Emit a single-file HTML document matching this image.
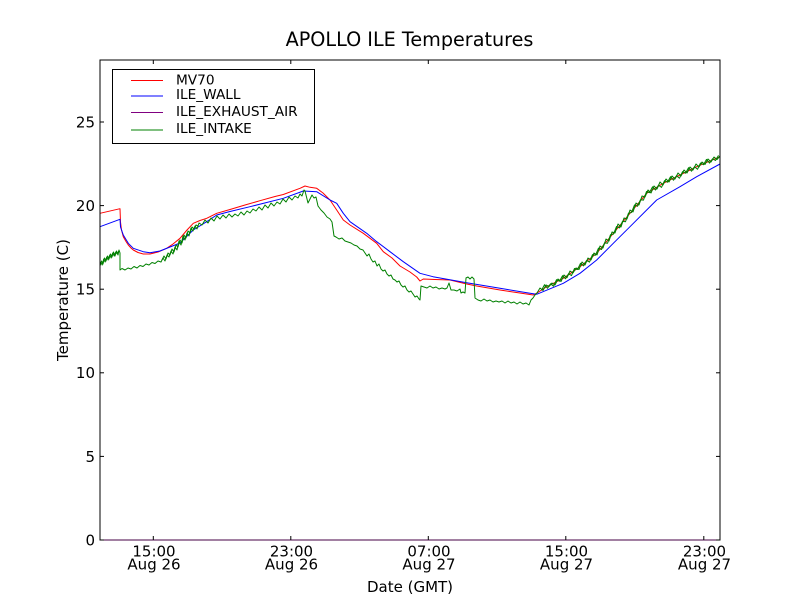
<!DOCTYPE html>
<html>
<head>
<meta charset="utf-8">
<style>
  html, body { margin: 0; padding: 0; background: #ffffff; }
  body { width: 800px; height: 600px; overflow: hidden; }
  svg { display: block; }
  text { font-family: "DejaVu Sans", "Liberation Sans", sans-serif; fill: #000; }
</style>
</head>
<body>
<svg width="800" height="600" viewBox="0 0 800 600" xmlns="http://www.w3.org/2000/svg">
  <rect x="0" y="0" width="800" height="600" fill="#ffffff"/>

  <!-- Title -->
  <text x="409.5" y="46" font-size="19.2" text-anchor="middle">APOLLO ILE Temperatures</text>

  <!-- Plot area -->
  <rect x="100" y="60" width="620" height="480" fill="#ffffff"/>

  <g fill="none" stroke-width="1" stroke-linejoin="round">
    <!-- ILE_EXHAUST_AIR (at 0) -->
    <line x1="100" y1="540" x2="720" y2="540" stroke="#800080"/>

    <!-- MV70 red -->
    <polyline stroke="#ff0000" points="100,213.3 120,208.7 120.5,222 121.5,230 123.3,236.7 126,241.5 128.3,245 131,248 133.3,250 138,252.5 143.3,254 150,254 158,252 166.7,248.3 173,244 180,238.3 187,230 193.3,223.3 200,220.5 206.7,218.3 216.7,213.3 230,209.5 245,205 260,200.7 275,196.5 283.3,194.5 300,188.3 305,186 310,187.3 316.7,188.3 323,193 330,200 336.7,210 343.3,220 350,225 363.3,233.3 376.7,243.3 383.3,251.7 392,258 400,266 410,272 416.7,277 420,281 423.3,279 435,279.5 450,280 466.7,284 476.7,286 500,290 533.3,295 537,293 546.7,286.7 563.3,278.3 580,266.7 596.7,253.3 613.3,233.3 630,213.3 646.7,193.3 663.3,183.3 680,175 696.7,166.7 720,156.7"/>

    <!-- ILE_WALL blue -->
    <polyline stroke="#0000ff" points="100,226.7 120,219.3 120.5,227 123.3,235 128.3,243.3 133.3,248.3 143.3,251.7 150,252.7 160,251 170,247 180,243 193.3,230 206.7,221.7 216.7,215 230,211.5 250,206.7 283.3,198.3 303.3,191 316.7,191.7 330,200 336.7,203.3 343.3,213.3 350,221.7 366.7,233.3 376.7,241.7 390,251.7 403.3,261.7 420,273.3 433,276.7 466.7,282.7 500,288.3 530,293.3 536.7,294.3 563.3,283.3 580,273.3 596.7,260 613.3,243.3 630,226.7 656.7,200 680,186.7 696.7,176.7 720,164"/>

    <!-- ILE_INTAKE green -->
    <polyline stroke="#008000" points="100,266 101.5,261 103,264 104.5,258 106,261 107.5,256 109,259 110.5,254 112,257 113.5,252 115,256 116.5,251 118,255 119,250 120,253 120,270 122,268.5 125,270 128,268 131,269 134,266.5 137,268 140,265.5 143,266.5 146,264 149,265 152,262.5 155,263.5 158,261 161,262 163,258 165,261 167,255 169,257 171,251 173,254 175,247 177,250 179,241 181,245 183,236 185,240 187,233 189,236 191,228 193,231 195,226 197,229 199,223 202,225 205,220 208,223 211,218 214,221 217,216 220,219 223,215 226,218 229,214 232,217 235,214 238,216 241,212 244,215 247,211 250,213 253,209 256,211 259,207 262,210 265,205 268,208 271,203 274,206 277,202 280,204 283,199 286,202 289,197 292,200 295,196 298,198 300,194 302,196 304,190 305,191 308,203 310,199 312,195 314,198 316,197 318,206 321,210 324,213 327,217 330,219 332,222 334,236 336,237 339,239 342,238 345,241 348,242 351,243 354,245 357,246 360,249 363,250 365,253 367,256 369,254 371,259 373,262 375,261 377,266 379,264 381,269 383,271 385,270 387,274 389,276 391,275 393,279 395,280 397,282 399,281 401,285 403,287 405,286 407,290 409,292 411,291 413,294 415,297 417,296 419,299 420,300 421,286 424,287 427,288 430,286 433,288 436,287 439,289 442,288 445,289 447,288 449,283 451,290 454,290 457,291 460,289 461,293 463,292 465,293 466,278 468,277 470,279 472,277 474,279 475,298 478,300 481,301 484,299 487,301 490,300 493,302 496,301 499,302 502,301 505,303 508,301 511,303 514,302 517,304 520,302 523,304 526,303 529,305 531,300 533,298 535,295 537,293 540,288 543,290.5 546,285 549,286.5 552,283 555,285 558,279 561,281.5 564,275 567,277.7 570,271 573,273 576,268 579,269.5 582,262 585,265 588,258 591,260 594,253 597,255 600,246 603,248 606,239 609,241 612,232 615,233 618,224 621,227 624,218 627,219 630,210 633,212 636,203 639,205 642,196 645,197 648,190 651,193 654,186 657,189 660,182 663,185 666,179 669,182 672,176 675,179 678,173 681,176 684,170 687,173 690,167 693,170 696,164 699,167 702,162 705,164.5 708,159 711,162 714,157 717,159.5 720,156"/>

    <!-- extra noise overlays for ILE_INTAKE -->
    <polyline stroke="#008000" points="100.7,262 102.2,265 103.7,259 105.2,262 106.7,257 108.2,260 109.7,255 111.2,258 112.7,253 114.2,256 115.7,252 117.2,254 118.7,251"/>
    <polyline stroke="#008000" points="162,260 164,256 166,259 168,253 170,255 172,249 174,252 176,245 178,247 180,240 182,243 184,235 186,238 188,231 190,233 192,227 194,229 196,225 198,226"/>
    <polyline stroke="#008000" points="541.5,290.2 544.5,284.7 547.5,288.3 550.5,283.8 553.5,286.2 556.5,279.7 559.5,281.2 562.5,275.7 565.5,278.8 568.5,273.7 571.5,275.6 574.5,268.5 577.5,269.5 580.5,263.3 583.5,265.9 586.5,260.5 589.5,262.1 592.5,254.6 595.5,255.2 598.5,248.1 601.5,249.5 604.5,242.9 607.5,243.3 610.5,234.7 613.5,234.1 616.5,226.5 619.5,227.9 622.5,221.3 625.5,221.7 628.5,213.1 631.5,212.5 634.5,204.9 637.5,206.3 640.5,199.7 643.5,200.1 646.5,191.5 649.5,192.6 652.5,186.8 655.5,190 658.5,185.2 661.5,187.4 664.5,180.7 667.5,182.2 670.5,176.7 673.5,180.2 676.5,175.7 679.5,178.2 682.5,171.7 685.5,173.2 688.5,167.7 691.5,171.2 694.5,166.7 697.5,169.3 700.5,163 703.5,164.7 706.5,159.4 709.5,163.1 712.5,158.8 715.5,160.5 718.5,155.4"/>
  </g>

  <!-- Axes frame -->
  <rect x="100" y="60" width="620" height="480" fill="none" stroke="#000" stroke-width="1"/>
  <line x1="100" y1="540" x2="720" y2="540" stroke="#800080" stroke-width="1" stroke-opacity="0.55"/>

  <!-- Ticks -->
  <g stroke="#000" stroke-width="1">
    <line x1="100" y1="540" x2="104" y2="540"/><line x1="720" y1="540" x2="716" y2="540"/>
    <line x1="100" y1="456.4" x2="104" y2="456.4"/><line x1="720" y1="456.4" x2="716" y2="456.4"/>
    <line x1="100" y1="372.8" x2="104" y2="372.8"/><line x1="720" y1="372.8" x2="716" y2="372.8"/>
    <line x1="100" y1="289.2" x2="104" y2="289.2"/><line x1="720" y1="289.2" x2="716" y2="289.2"/>
    <line x1="100" y1="205.6" x2="104" y2="205.6"/><line x1="720" y1="205.6" x2="716" y2="205.6"/>
    <line x1="100" y1="122" x2="104" y2="122"/><line x1="720" y1="122" x2="716" y2="122"/>
    <line x1="153.3" y1="540" x2="153.3" y2="536"/><line x1="153.3" y1="60" x2="153.3" y2="64"/>
    <line x1="290.8" y1="540" x2="290.8" y2="536"/><line x1="290.8" y1="60" x2="290.8" y2="64"/>
    <line x1="428.3" y1="540" x2="428.3" y2="536"/><line x1="428.3" y1="60" x2="428.3" y2="64"/>
    <line x1="565.8" y1="540" x2="565.8" y2="536"/><line x1="565.8" y1="60" x2="565.8" y2="64"/>
    <line x1="703.8" y1="540" x2="703.8" y2="536"/><line x1="703.8" y1="60" x2="703.8" y2="64"/>
  </g>

  <!-- Y tick labels -->
  <g font-size="15" text-anchor="end">
    <text x="95" y="545.4">0</text>
    <text x="95" y="461.8">5</text>
    <text x="95" y="378.2">10</text>
    <text x="95" y="294.6">15</text>
    <text x="95" y="211">20</text>
    <text x="95" y="127.4">25</text>
  </g>

  <!-- X tick labels -->
  <g font-size="15" text-anchor="middle">
    <text x="154" y="556.5">15:00</text><text x="154" y="569.5">Aug 26</text>
    <text x="291.5" y="556.5">23:00</text><text x="291.5" y="569.5">Aug 26</text>
    <text x="429" y="556.5">07:00</text><text x="429" y="569.5">Aug 27</text>
    <text x="566.5" y="556.5">15:00</text><text x="566.5" y="569.5">Aug 27</text>
    <text x="704.5" y="556.5">23:00</text><text x="704.5" y="569.5">Aug 27</text>
  </g>

  <!-- Axis labels -->
  <text x="410" y="592" font-size="15" text-anchor="middle">Date (GMT)</text>
  <text x="0" y="0" font-size="15" text-anchor="middle" transform="translate(68,300) rotate(-90)">Temperature (C)</text>

  <!-- Legend -->
  <rect x="112.5" y="69.5" width="202" height="74" fill="#ffffff" stroke="#000" stroke-width="1"/>
  <g stroke-width="1">
    <line x1="131" y1="80.5" x2="163" y2="80.5" stroke="#ff0000"/>
    <line x1="131" y1="96" x2="163" y2="96" stroke="#0000ff"/>
    <line x1="131" y1="112.5" x2="163" y2="112.5" stroke="#800080"/>
    <line x1="131" y1="130" x2="163" y2="130" stroke="#008000"/>
  </g>
  <g font-size="13.7">
    <text x="176" y="84.5">MV70</text>
    <text x="176" y="99">ILE_WALL</text>
    <text x="176" y="116">ILE_EXHAUST_AIR</text>
    <text x="176" y="133">ILE_INTAKE</text>
  </g>
</svg>
</body>
</html>
